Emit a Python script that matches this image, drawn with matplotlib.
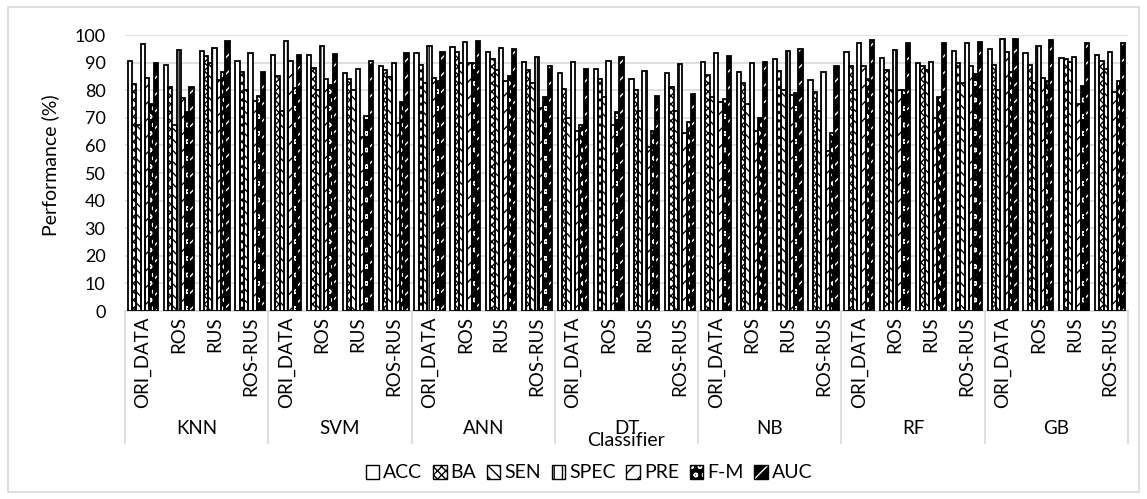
import matplotlib
matplotlib.use("Agg")
import matplotlib.pyplot as plt
from matplotlib.patches import Rectangle, Patch
from matplotlib.lines import Line2D
from matplotlib.legend_handler import HandlerTuple
import numpy as np

plt.rcParams['font.family'] = ['Lato', 'DejaVu Sans']
plt.rcParams['hatch.linewidth'] = 1.0

classifiers = ["KNN", "SVM", "ANN", "DT", "NB", "RF", "GB"]
samplings = ["ORI_DATA", "ROS", "RUS", "ROS-RUS"]
metrics = ["ACC", "BA", "SEN", "SPEC", "PRE", "F-M", "AUC"]

# values ordered classifier-major, sampling-minor (28 groups)
ACC = [90.6, 89.2, 94.2, 90.7,  92.8, 92.8, 86.1, 88.8,  93.4, 95.8, 93.7, 90.2,
       86.1, 87.6, 84.1, 86.1,  90.2, 86.7, 91.2, 83.7,  93.7, 91.8, 89.8, 94.2,
       94.8, 93.4, 91.8, 92.8]
BA = [82.2, 81.1, 92.5, 86.7,  85.2, 88.0, 84.0, 87.3,  89.2, 93.7, 91.3, 87.3,
      80.4, 84.0, 79.9, 81.1,  85.5, 82.5, 87.1, 79.5,  88.8, 87.3, 88.8, 90.0,
      89.2, 89.2, 91.2, 90.7]
SEN = [67.5, 67.5, 90.0, 80.1,  72.3, 80.1, 80.1, 84.9,  82.5, 90.0, 87.3, 82.5,
       69.9, 77.5, 72.5, 72.5,  77.5, 74.9, 80.1, 72.5,  80.1, 80.1, 87.3, 82.5,
       80.1, 82.5, 90.1, 87.6]
SPEC = [96.6, 94.6, 95.3, 93.4,  98.0, 96.0, 87.7, 89.8,  96.0, 97.3, 95.4, 92.2,
        90.2, 90.4, 87.1, 89.6,  93.6, 89.8, 94.2, 86.5,  97.2, 94.6, 90.2, 97.2,
        98.6, 96.0, 92.2, 94.0]
PRE = [84.3, 77.1, 83.7, 76.1,  90.6, 84.1, 63.0, 68.1,  84.6, 90.0, 83.4, 73.5,
       65.1, 67.5, 59.4, 64.5,  75.7, 65.3, 78.1, 58.1,  88.8, 80.1, 70.1, 88.9,
       94.0, 84.6, 75.1, 79.5]
FM = [74.9, 72.0, 86.7, 78.0,  80.7, 81.9, 70.5, 75.7,  83.4, 90.0, 85.2, 77.7,
      67.5, 72.0, 65.1, 68.3,  76.7, 69.9, 78.9, 64.5,  84.1, 80.1, 77.7, 85.9,
      86.5, 83.5, 81.7, 83.4]
AUC = [89.8, 81.1, 97.8, 86.7,  92.8, 93.1, 90.7, 93.4,  93.7, 97.7, 95.1, 88.9,
       87.6, 91.9, 78.0, 78.8,  92.4, 90.1, 95.1, 88.6,  98.2, 97.0, 97.0, 97.3,
       98.4, 98.2, 97.0, 97.2]

series = [ACC, BA, SEN, SPEC, PRE, FM, AUC]
# style: (facecolor, hatch, hatchcolor)
styles = [
    ("white", None, "black"),
    ("white", "xxxx", "black"),
    ("white", "\\\\\\", "black"),
    ("white", "||", "black"),
    ("white", "//", "black"),
    ("black", "oo", "white"),
    ("black", "//", "white"),
]

W, H = 1147, 499
fig = plt.figure(figsize=(W / 100, H / 100), dpi=100)
ax = fig.add_axes([125 / W, 1 - 311 / H, (1128 - 125) / W, (311 - 35) / H])

n_groups = len(classifiers) * len(samplings)
x = np.arange(n_groups) + 0.5
bw = 0.12
for i, (vals, (fc, hatch, hc)) in enumerate(zip(series, styles)):
    pos = x + (i - 3) * bw
    ax.bar(pos, vals, width=bw, color=fc, linewidth=0, zorder=2)
    if hatch is not None:
        ax.bar(pos, vals, width=bw, facecolor="none", edgecolor=hc,
               hatch=hatch, linewidth=0, zorder=2.5)
    ax.bar(pos, vals, width=bw, fill=False, edgecolor="black",
           linewidth=1.3, zorder=3)

ax.set_xlim(0, n_groups)
ax.set_ylim(0, 100)
ax.set_yticks(np.arange(0, 101, 10))
ax.tick_params(axis="y", length=0, labelsize=13, pad=14)
ax.tick_params(axis="x", length=0, labelbottom=False)
ax.grid(axis="y", color="#d9d9d9", linewidth=1.2, zorder=0)
for s in ["top", "right", "left"]:
    ax.spines[s].set_visible(False)
ax.spines["bottom"].set_color("#d9d9d9")
ax.spines["bottom"].set_linewidth(1.2)
ax.set_axisbelow(True)

trans = ax.get_xaxis_transform()
ah = 311 - 35
for g in range(n_groups):
    ax.text(x[g], (311 - 316) / ah, samplings[g % 4], rotation=90,
            ha="center", va="top", fontsize=13.5, transform=trans)
for c, name in enumerate(classifiers):
    ax.text(c * 4 + 2, (311 - 428) / ah, name, ha="center", va="center",
            fontsize=13.5, transform=trans)
for c in range(len(classifiers) + 1):
    ax.add_line(Line2D([c * 4, c * 4], [0, (311 - 443) / ah], transform=trans,
                       color="#d9d9d9", linewidth=1.2, clip_on=False))

ax.text(14, (311 - 441) / ah, "Classifier", ha="center", va="center",
        fontsize=14, transform=trans)
fig.text(50 / W, 1 - 165 / H, "Performance (%)", rotation=90, ha="center",
         va="center", fontsize=14)

handles = []
for name, (fc, hatch, hc) in zip(metrics, styles):
    base = Patch(facecolor=fc, edgecolor="none", linewidth=0)
    hp = Patch(facecolor="none", edgecolor=hc, hatch=hatch, linewidth=0)
    border = Patch(facecolor="none", edgecolor="black", linewidth=1.0)
    handles.append((base, hp, border))
fig.legend(handles=handles, labels=metrics, loc="center",
           bbox_to_anchor=(589 / W, 1 - 473 / H),
           handler_map={tuple: HandlerTuple(ndivide=1)},
           ncol=7, frameon=False, fontsize=14, handlelength=0.7,
           handleheight=0.7, handletextpad=0.2, columnspacing=0.55)

fig.add_artist(Rectangle((8 / W, 7 / H), (1139 - 8) / W, (492 - 7) / H,
                         transform=fig.transFigure, fill=False,
                         edgecolor="#d9d9d9", linewidth=1.2))

fig.savefig("out.png", dpi=100)
